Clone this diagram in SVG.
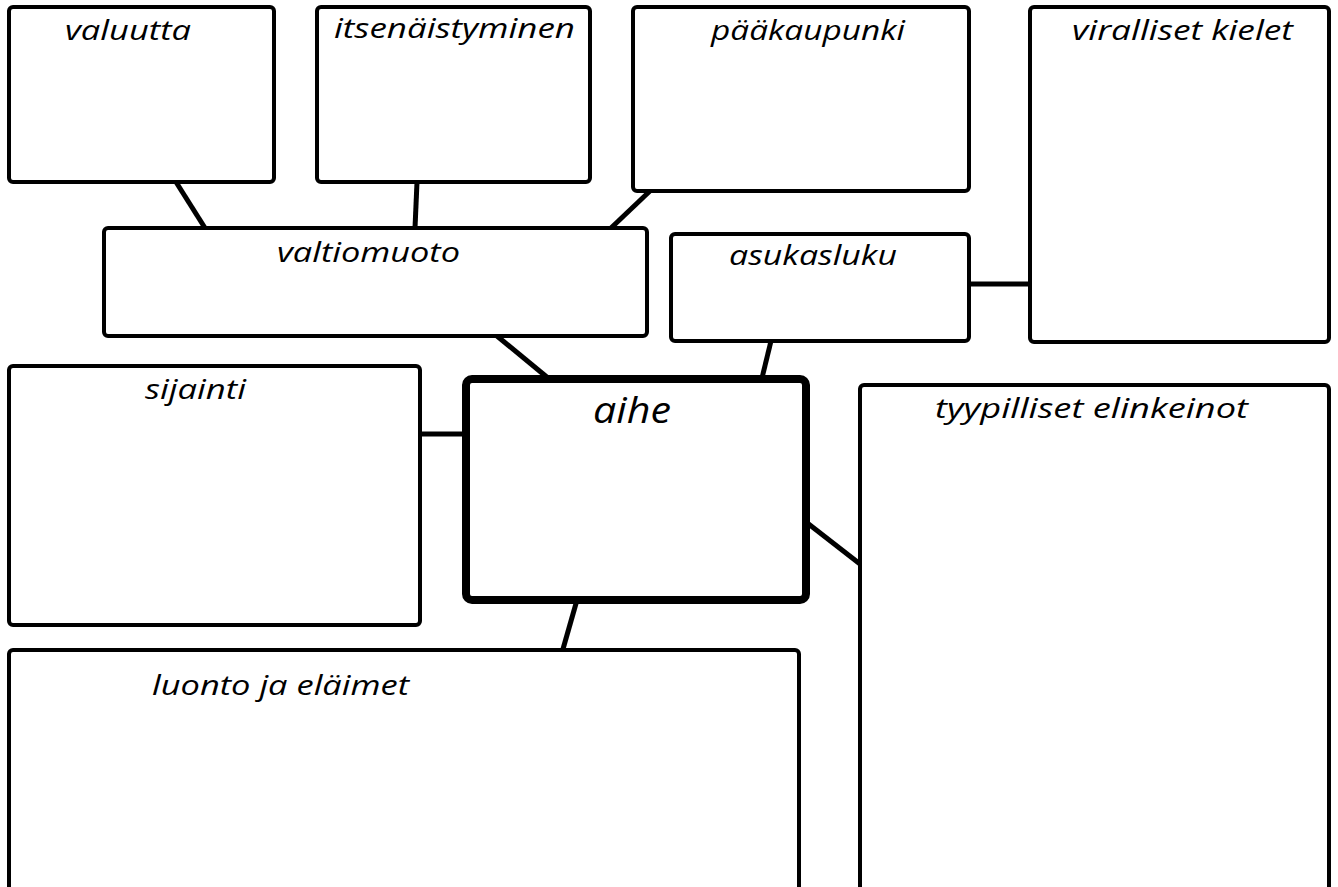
<svg xmlns="http://www.w3.org/2000/svg" width="1338" height="887" viewBox="0 0 1338 887">
<style>
.box{fill:#fff;stroke:#000;stroke-width:4;}
.main{fill:#fff;stroke:#000;stroke-width:8;}
.lbl{font-family:"Open Sans","Noto Sans",sans-serif;font-style:italic;font-size:28px;fill:#000;}
.big{font-size:36px;}
.con{stroke:#000;stroke-width:5;fill:none;}
</style>
<rect width="1338" height="887" fill="#fff"/>
<g id="connectors">
<line class="con" x1="176" y1="182" x2="205" y2="228"/>
<line class="con" x1="417" y1="182" x2="415" y2="228"/>
<line class="con" x1="651" y1="190" x2="611" y2="228"/>
<line class="con" x1="497" y1="336" x2="548" y2="378"/>
<line class="con" x1="771" y1="341" x2="762" y2="378"/>
<line class="con" x1="969" y1="284" x2="1030" y2="284"/>
<line class="con" x1="420" y1="434" x2="465" y2="434"/>
<line class="con" x1="806" y1="522" x2="860" y2="564"/>
<line class="con" x1="577" y1="600" x2="563" y2="649"/>
</g>
<g id="valuutta"><rect class="box" x="9" y="7" width="265" height="175" rx="4"/><text class="lbl" x="65" y="40" textLength="126" lengthAdjust="spacingAndGlyphs">valuutta</text></g>
<g id="itsenaistyminen"><rect class="box" x="317" y="7" width="273" height="175" rx="4"/><text class="lbl" x="334" y="38" textLength="241" lengthAdjust="spacingAndGlyphs">itsenäistyminen</text></g>
<g id="paakaupunki"><rect class="box" x="633" y="7" width="336" height="184" rx="4"/><text class="lbl" x="711" y="40" textLength="194" lengthAdjust="spacingAndGlyphs">pääkaupunki</text></g>
<g id="viralliset"><rect class="box" x="1030" y="7" width="299" height="335" rx="4"/><text class="lbl" x="1072" y="40" textLength="221" lengthAdjust="spacingAndGlyphs">viralliset kielet</text></g>
<g id="valtiomuoto"><rect class="box" x="104" y="228" width="543" height="108" rx="4"/><text class="lbl" x="277" y="262" textLength="183" lengthAdjust="spacingAndGlyphs">valtiomuoto</text></g>
<g id="asukasluku"><rect class="box" x="671" y="234" width="298" height="107" rx="4"/><text class="lbl" x="729" y="265" textLength="168" lengthAdjust="spacingAndGlyphs">asukasluku</text></g>
<g id="sijainti"><rect class="box" x="9" y="366" width="411" height="259" rx="4"/><text class="lbl" x="145" y="399" textLength="101" lengthAdjust="spacingAndGlyphs">sijainti</text></g>
<g id="aihe"><rect class="main" x="466" y="379" width="340" height="221" rx="6"/><text class="lbl big" x="593" y="423" textLength="78" lengthAdjust="spacingAndGlyphs">aihe</text></g>
<g id="tyypilliset"><rect class="box" x="860" y="385" width="469" height="520" rx="4"/><text class="lbl" x="935" y="418" textLength="313" lengthAdjust="spacingAndGlyphs">tyypilliset elinkeinot</text></g>
<g id="luonto"><rect class="box" x="9" y="650" width="790" height="260" rx="4"/><text class="lbl" x="152" y="695" textLength="257" lengthAdjust="spacingAndGlyphs">luonto ja eläimet</text></g>
</svg>
